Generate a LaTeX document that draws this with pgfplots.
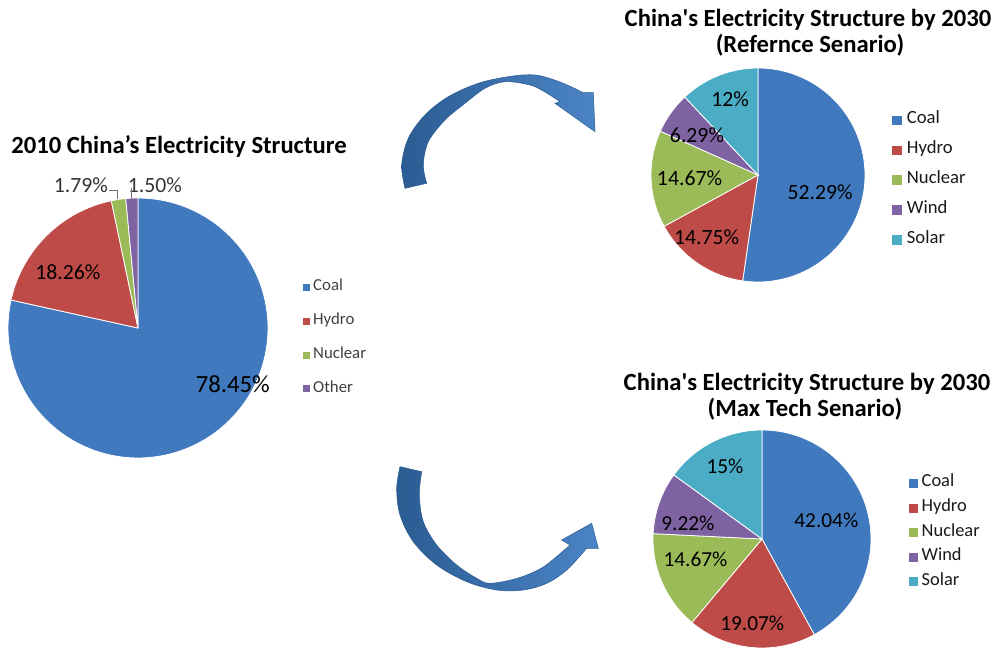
\documentclass[border=0pt]{standalone}
\usepackage{fontspec}
\setmainfont{Carlito}
\newfontfamily\nomap{Carlito}
\usepackage{pgfplots}
\pgfplotsset{compat=1.18}
\definecolor{cCoal}{HTML}{4079BD}
\definecolor{cHydro}{HTML}{BE4B48}
\definecolor{cNuc}{HTML}{9BBB59}
\definecolor{cWind}{HTML}{7F62A1}
\definecolor{cSolar}{HTML}{4AACC5}
\definecolor{arrowdark}{HTML}{2B5C92}
\definecolor{arrowlight}{HTML}{4B84C6}

% one pie slice from a percentage value (clockwise from 12 o'clock)
\newcommand\pieslice[3]{%
  \pgfmathsetmacro\aS{90-3.6*\cum}%
  \pgfmathsetmacro\aE{90-3.6*(\cum+#2)}%
  \pgfmathsetmacro\tmpc{\cum+#2}\xdef\cum{\tmpc}%
  \edef\doit{\noexpand\addplot[fill=#1, draw=white, line width=0.6pt, domain=\aE:\aS, samples=120, variable=\noexpand\t] ({cos(\noexpand\t)},{sin(\noexpand\t)}) -- (axis cs:0,0) -- cycle;}%
  \doit
  \addlegendentry{#3}}

\pgfplotsset{
  pie/.style={scale only axis, hide axis, clip=false,
    xmin=-1,xmax=1,ymin=-1,ymax=1, anchor=center,
    legend cell align=left,
    legend image code/.code={\fill[##1,draw=none] (0pt,-\sq) rectangle ({2*\sq},\sq);},
  }
}
\def\sq{2.6pt}

\begin{document}
\begin{tikzpicture}[x=0.75pt,y=0.75pt]
\path[use as bounding box] (0,0) rectangle (1000,651);
\begin{scope}[shift={(0,651)}, yscale=-1]
  \coordinate (cL) at (138,328);
  \coordinate (cT) at (758,175);
  \coordinate (cB) at (762,539);
  % titles
  \node[anchor=base, font=\bfseries\fontsize{18.5}{22}\selectfont] at (179,154) {2010 China’s Electricity Structure};
  \node[anchor=base, font=\nomap\bfseries\fontsize{18.5}{22}\selectfont] at (808,27) {China's Electricity Structure by 2030};
  \node[anchor=base, font=\bfseries\fontsize{18.5}{22}\selectfont] at (810,53) {(Refernce Senario)};
  \node[anchor=base, font=\nomap\bfseries\fontsize{18.5}{22}\selectfont] at (807,390) {China's Electricity Structure by 2030};
  \node[anchor=base, font=\bfseries\fontsize{18.5}{22}\selectfont] at (805,416) {(Max Tech Senario)};
  % curved arrows (decoration)
  \shade[left color=arrowdark, right color=arrowlight, draw=arrowdark, line width=0.4pt]
    plot[smooth, tension=0.55] coordinates {(405,188.3) (401.7,165) (408.3,138.3) (425,115) (448.3,96.7) (478.3,83.3) (508.3,76.7) (535,75) (560,82) (583.3,92.7)}
    -- (593.3,92.7) -- (595,131.7) -- (555,103.3)
    -- plot[smooth, tension=0.55] coordinates {(560,101.7) (545,92) (530,85) (505,81.7) (485,88.3) (465,103.3) (445,120) (428.3,141.7) (423.3,165) (426.7,183.3)}
    -- cycle;
  \shade[left color=arrowdark, right color=arrowlight, draw=arrowdark, line width=0.4pt]
    plot[smooth, tension=0.55] coordinates {(400,466.7) (396.7,488.3) (400,515) (413.3,541.7) (436.7,565) (466.7,581.7) (496.7,590) (523.3,590) (546.7,583.3) (566.7,570) (586.7,548.3)}
    -- (598.3,548.3) -- (591.7,523.3) -- (561.7,540)
    -- plot[smooth, tension=0.55] coordinates {(570,545) (555,558) (540,569) (516.7,578.5) (490,583.3) (476.7,578.3) (456.7,565) (436.7,545) (423.3,521.7) (419.3,495) (421.7,471.7)}
    -- cycle;
\end{scope}

% ---- 2010 pie ----
\gdef\cum{0}
\begin{axis}[pie, at={(cL)}, width=195pt, height=195pt,
  legend style={draw=none, fill=none, inner sep=0pt, at={(1.135,0.461)}, anchor=west,
    font=\fontsize{12.6}{14}\selectfont, text=black!75,
    nodes={inner sep=0pt, text height=0.7em, text depth=0.2em},
    row sep=16.4pt, column sep=2.2pt}]
  \pieslice{cCoal}{78.45}{Coal}
  \pieslice{cHydro}{18.26}{Hydro}
  \pieslice{cNuc}{1.79}{Nuclear}
  \pieslice{cWind}{1.50}{Other}
  \node[font=\fontsize{18.5}{20}\selectfont] at (axis cs:0.73,-0.43) {78.45\%};
  \node[font=\fontsize{16.3}{18}\selectfont] at (axis cs:-0.54,0.43) {18.26\%};
  \node[font=\fontsize{16.3}{18}\selectfont, text=black!80] at (axis cs:-0.44,1.10) {1.79\%};
  \node[font=\fontsize{16.3}{18}\selectfont, text=black!80] at (axis cs:0.13,1.10) {1.50\%};
  \draw[black!55, line width=0.6pt] (axis cs:-0.225,1.062) -- (axis cs:-0.162,1.062) -- (axis cs:-0.162,0.99);
  \draw[black!55, line width=0.6pt] (axis cs:-0.054,1.077) -- (axis cs:-0.054,0.985);
\end{axis}

% ---- 2030 reference ----
\def\sq{3.5pt}
\gdef\cum{0}
\begin{axis}[pie, at={(cT)}, width=160.5pt, height=160.5pt,
  legend style={draw=none, fill=none, inner sep=0pt, at={(1.126,0.476)}, anchor=west,
    font=\fontsize{14}{16}\selectfont, text=black!90,
    nodes={inner sep=0pt, text height=0.7em, text depth=0.2em},
    row sep=13.4pt, column sep=4pt}]
  \pieslice{cCoal}{52.29}{Coal}
  \pieslice{cHydro}{14.75}{Hydro}
  \pieslice{cNuc}{14.67}{Nuclear}
  \pieslice{cWind}{6.29}{Wind}
  \pieslice{cSolar}{12}{Solar}
  \node[font=\fontsize{16.3}{18}\selectfont] at (axis cs:0.58,-0.165) {52.29\%};
  \node[font=\fontsize{16.3}{18}\selectfont] at (axis cs:-0.48,-0.58) {14.75\%};
  \node[font=\fontsize{16.3}{18}\selectfont] at (axis cs:-0.64,-0.03) {14.67\%};
  \node[font=\fontsize{16.3}{18}\selectfont] at (axis cs:-0.57,0.37) {6.29\%};
  \node[font=\fontsize{16.3}{18}\selectfont] at (axis cs:-0.26,0.71) {12\%};
\end{axis}

% ---- 2030 max tech ----
\def\sq{3.3pt}
\gdef\cum{0}
\begin{axis}[pie, at={(cB)}, width=163.5pt, height=163.5pt,
  legend style={draw=none, fill=none, inner sep=0pt, at={(1.174,0.529)}, anchor=west,
    font=\fontsize{13.8}{16}\selectfont, text=black!90,
    nodes={inner sep=0pt, text height=0.7em, text depth=0.2em},
    row sep=9.4pt, column sep=2.8pt}]
  \pieslice{cCoal}{42.04}{Coal}
  \pieslice{cHydro}{19.07}{Hydro}
  \pieslice{cNuc}{14.67}{Nuclear}
  \pieslice{cWind}{9.22}{Wind}
  \pieslice{cSolar}{15}{Solar}
  \node[font=\fontsize{16}{18}\selectfont] at (axis cs:0.59,0.17) {42.04\%};
  \node[font=\fontsize{16}{18}\selectfont] at (axis cs:-0.09,-0.77) {19.07\%};
  \node[font=\fontsize{16}{18}\selectfont] at (axis cs:-0.61,-0.19) {14.67\%};
  \node[font=\fontsize{16}{18}\selectfont] at (axis cs:-0.68,0.14) {9.22\%};
  \node[font=\fontsize{16}{18}\selectfont] at (axis cs:-0.34,0.67) {15\%};
\end{axis}
\end{tikzpicture}
\end{document}
